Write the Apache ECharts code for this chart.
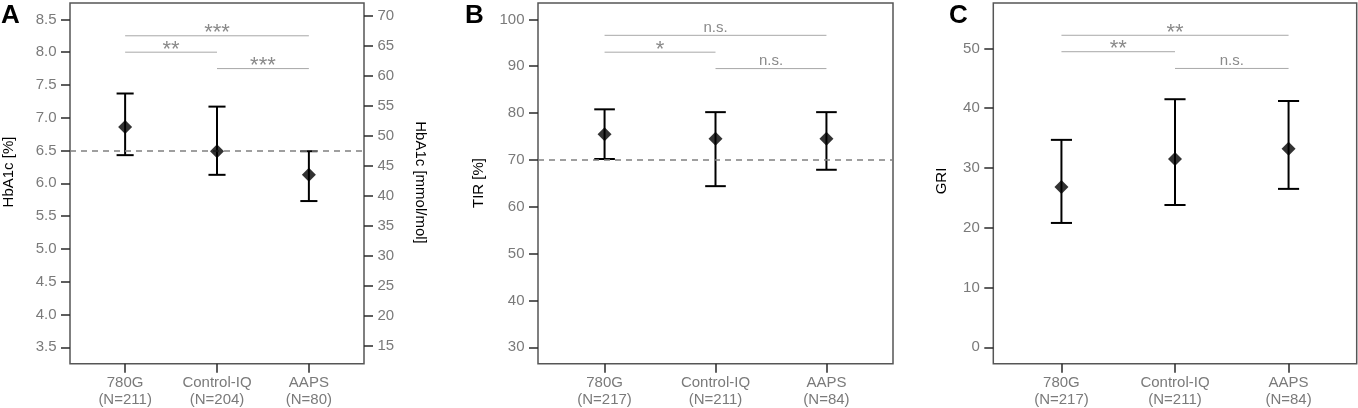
<!DOCTYPE html>
<html lang="en">
<head>
    <meta charset="UTF-8">
    <title>HbA1c, TIR and GRI by AID system</title>
    <script src="https://cdn.jsdelivr.net/npm/echarts@6/dist/echarts.min.js"></script>
</head>
<style>
    *{
        margin: 0;
        padding: 0;
    }
    html, body{
        width: 1358px;
        height: 408px;
        background: #fff;
    }
    .container{
        width: 1358px;
        height: 408px;
    }
</style>
<body>
<div class="container"></div>
<script>
    // groups and sample sizes
    const groups = ['780G', 'Control-IQ', 'AAPS'];
    const nHbA1c = [211, 204, 80];
    const nCgm = [217, 211, 84];

    // mean and error bar ends
    const hba1cMean = [6.86, 6.49, 6.13];
    const hba1cLow = [6.43, 6.13, 5.73];
    const hba1cHigh = [7.37, 7.17, 6.49];

    const tirMean = [75.5, 74.5, 74.5];
    const tirLow = [70.2, 64.4, 67.9];
    const tirHigh = [80.8, 80.2, 80.2];

    const griMean = [26.8, 31.5, 33.2];
    const griLow = [20.8, 23.8, 26.5];
    const griHigh = [34.7, 41.5, 41.2];

    // pairwise comparisons (group positions) and their bracket heights / labels
    const sigPairs = [[1, 3], [1, 2], [2, 3]];
    const sigLevelA = [8.25, 8.0, 7.75];
    const sigLevelB = [96.6, 93.0, 89.5];
    const sigLevelC = [52.2, 49.45, 46.65];
    const sigTextA = ['***', '**', '***'];
    const sigTextB = ['n.s.', '*', 'n.s.'];
    const sigTextC = ['**', '**', 'n.s.'];

    // reference lines
    const refA = 6.5;
    const refB = 70;

    // tick labels
    const ticksA = [3.5, 4.0, 4.5, 5.0, 5.5, 6.0, 6.5, 7.0, 7.5, 8.0, 8.5];
    const ticksMmol = [15, 20, 25, 30, 35, 40, 45, 50, 55, 60, 65, 70];
    const ticksB = [30, 40, 50, 60, 70, 80, 90, 100];
    const ticksC = [0, 10, 20, 30, 40, 50];
    const xTicks = [1, 2, 3];

    const FONT = '"Liberation Sans", Arial, Helvetica, sans-serif';
    const GREY = '#7a7a7a';

    // HbA1c % -> mmol/mol (IFCC)
    const toMmol = v => 10.93 * v - 23.5;
    const rangeA = [3.25, 8.75];

    let container = document.querySelector('.container');
    let mycharts = echarts.init(container);

    function errRender(params, api) {
        let x = api.value(0);
        let lo = api.coord([x, api.value(1)]);
        let hi = api.coord([x, api.value(2)]);
        let half = api.size([0.093, 0])[0];
        let style = {stroke: '#000', lineWidth: 2};
        return {
            type: 'group',
            children: [
                {type: 'line', shape: {x1: lo[0], y1: lo[1], x2: hi[0], y2: hi[1]}, style},
                {type: 'line', shape: {x1: lo[0] - half, y1: lo[1], x2: lo[0] + half, y2: lo[1]}, style},
                {type: 'line', shape: {x1: hi[0] - half, y1: hi[1], x2: hi[0] + half, y2: hi[1]}, style}
            ]
        };
    }

    function sigRender(texts) {
        return function (params, api) {
            let a = api.coord([api.value(0), api.value(2)]);
            let b = api.coord([api.value(1), api.value(2)]);
            let label = texts[params.dataIndex];
            let star = label.indexOf('*') >= 0;
            return {
                type: 'group',
                children: [
                    {type: 'line', shape: {x1: a[0], y1: a[1], x2: b[0], y2: b[1]},
                        style: {stroke: '#a8a8a8', lineWidth: 1}},
                    {type: 'text', x: (a[0] + b[0]) / 2, y: a[1] - (star ? 2.5 : 7.5),
                        style: {text: label, fill: '#8a8a8a', align: 'center', verticalAlign: 'middle',
                            font: (star ? '22px ' : '15px ') + FONT}}
                ]
            };
        };
    }

    function yAxis(grid, min, max, ticks, digits, position) {
        return {
            type: 'value',
            gridIndex: grid,
            position: position || 'left',
            min, max,
            splitLine: {show: false},
            axisLine: {show: false, onZero: false},
            axisTick: {show: true, length: 9, customValues: ticks,
                lineStyle: {color: '#2a2a2a', width: 1.5}},
            axisLabel: {customValues: ticks, margin: 13.5, fontSize: 15, color: GREY, fontFamily: FONT,
                formatter: v => v.toFixed(digits)}
        };
    }

    function xAxis(grid, ns) {
        return {
            type: 'value',
            gridIndex: grid,
            position: 'bottom',
            min: 0.4, max: 3.6,
            splitLine: {show: false},
            axisLine: {show: false, onZero: false},
            axisTick: {show: true, length: 9, customValues: xTicks,
                lineStyle: {color: '#2a2a2a', width: 1.5}},
            axisLabel: {customValues: xTicks, margin: 11, fontSize: 15, lineHeight: 16.7,
                color: GREY, fontFamily: FONT,
                formatter: v => groups[Math.round(v) - 1] + '\n(N=' + ns[Math.round(v) - 1] + ')'}
        };
    }

    function panelSeries(grid, yIdx, mean, low, high, sigLevel, sigText, ref) {
        let points = {
            type: 'scatter',
            xAxisIndex: grid, yAxisIndex: yIdx,
            symbol: 'diamond', symbolSize: [14, 14],
            itemStyle: {color: '#000'},
            z: 5,
            data: mean.map((m, i) => [i + 1, m])
        };
        if (ref !== undefined) {
            points.markLine = {
                silent: true, symbol: 'none',
                label: {show: false},
                lineStyle: {color: '#808080', type: [6, 5], width: 1.5},
                data: [{yAxis: ref}]
            };
        }
        return [
            {
                type: 'custom',
                xAxisIndex: grid, yAxisIndex: yIdx,
                renderItem: errRender,
                z: 4,
                data: mean.map((m, i) => [i + 1, low[i], high[i]])
            },
            points,
            {
                type: 'custom',
                xAxisIndex: grid, yAxisIndex: yIdx,
                renderItem: sigRender(sigText),
                z: 3,
                data: sigPairs.map((p, i) => [p[0], p[1], sigLevel[i]])
            }
        ];
    }

    function title(text, x, y, rot) {
        return {type: 'text', x, y, rotation: rot,
            style: {text, fill: '#000', font: '15px ' + FONT, align: 'center', verticalAlign: 'middle'}};
    }
    function letter(text, x, y) {
        return {type: 'text', x, y,
            style: {text, fill: '#000', font: 'bold 26px ' + FONT, align: 'left', verticalAlign: 'middle'}};
    }

    let frame = {show: true, borderColor: '#565656', borderWidth: 1.5, backgroundColor: 'transparent'};

    let options = {
        backgroundColor: '#fff',
        animation: false,
        grid: [
            Object.assign({left: 70, top: 3, width: 294, height: 360.7, outerBoundsMode: 'none'}, frame),
            Object.assign({left: 538, top: 3, width: 355, height: 360.7, outerBoundsMode: 'none'}, frame),
            Object.assign({left: 993.3, top: 3, width: 363.4, height: 360.7, outerBoundsMode: 'none'}, frame)
        ],
        xAxis: [xAxis(0, nHbA1c), xAxis(1, nCgm), xAxis(2, nCgm)],
        yAxis: [
            yAxis(0, rangeA[0], rangeA[1], ticksA, 1),
            yAxis(0, toMmol(rangeA[0]), toMmol(rangeA[1]), ticksMmol, 0, 'right'),
            yAxis(1, 26.5, 103.5, ticksB, 0),
            yAxis(2, -2.75, 57.6, ticksC, 0)
        ],
        graphic: [
            letter('A', 1, 16),
            letter('B', 465, 16),
            letter('C', 949, 16),
            title('HbA1c [%]', 8.5, 172, Math.PI / 2),
            title('HbA1c [mmol/mol]', 420, 182.5, -Math.PI / 2),
            title('TIR [%]', 479, 183, Math.PI / 2),
            title('GRI', 942, 181, Math.PI / 2)
        ],
        series: [].concat(
            panelSeries(0, 0, hba1cMean, hba1cLow, hba1cHigh, sigLevelA, sigTextA, refA),
            panelSeries(1, 2, tirMean, tirLow, tirHigh, sigLevelB, sigTextB, refB),
            panelSeries(2, 3, griMean, griLow, griHigh, sigLevelC, sigTextC)
        )
    };

    mycharts.setOption(options);
</script>
</body>
</html>
